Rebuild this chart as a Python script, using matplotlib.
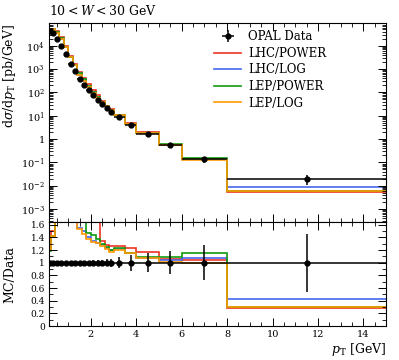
import numpy as np
import matplotlib
matplotlib.use("Agg")
import matplotlib.pyplot as plt
from matplotlib.ticker import MultipleLocator, FuncFormatter, FixedLocator, NullFormatter

plt.rcParams['font.family'] = ['DejaVu Serif']
plt.rcParams['mathtext.fontset'] = 'dejavuserif'

edges = [0.15, 0.25, 0.4, 0.6, 0.8, 1.0, 1.2, 1.4, 1.6, 1.8, 2.0, 2.2, 2.4, 2.6, 2.8,
         3.0, 3.5, 4.0, 5.0, 6.0, 8.0, 15.0]
data_vals = [4.2e4, 3.6e4, 1.9e4, 1.0e4, 4.2e3, 1.7e3, 820, 370, 215, 125, 74, 46, 31,
             21, 14.8, 8.5, 4.0, 1.7, 0.55, 0.135, 0.02]
data_relerr = [0.02, 0.02, 0.02, 0.02, 0.02, 0.025, 0.025, 0.03, 0.03, 0.035, 0.04, 0.045,
               0.05, 0.055, 0.065, 0.09, 0.125, 0.15, 0.18, 0.28, 0.46]

ratio_lhc_power = [1.2, 1.5, 2.2, 2.3, 2.3, 2.2, 2.1, 2.0, 1.9, 1.8, 1.75, 1.7, 1.35, 1.28,
                   1.26, 1.26, 1.23, 1.17, 1.06, 1.05, 0.28]
ratio_lhc_log = [1.2, 1.43, 1.9, 2.0, 2.0, 1.9, 1.75, 1.55, 1.5, 1.41, 1.35, 1.32, 1.28, 1.24,
                 1.2, 1.22, 1.15, 1.08, 1.05, 1.07, 0.43]
ratio_lep_power = [1.18, 1.42, 2.0, 2.1, 2.1, 2.0, 1.9, 1.75, 1.68, 1.47, 1.44, 1.38, 1.29,
                   1.25, 1.2, 1.24, 1.16, 1.09, 1.09, 1.15, 0.30]
ratio_lep_log = [1.2, 1.43, 1.9, 2.0, 2.0, 1.9, 1.75, 1.53, 1.45, 1.38, 1.33, 1.31, 1.27,
                 1.22, 1.17, 1.21, 1.15, 1.07, 1.02, 0.99, 0.30]

series = [
    ("LHC/POWER", ratio_lhc_power, "#EE3322"),
    ("LHC/LOG", ratio_lhc_log, "#4466EE"),
    ("LEP/POWER", ratio_lep_power, "#119911"),
    ("LEP/LOG", ratio_lep_log, "#FF9900"),
]

edges = np.array(edges)
data = np.array(data_vals)
relerr = np.array(data_relerr)
centers = 0.5 * (edges[1:] + edges[:-1])
xerr = 0.5 * (edges[1:] - edges[:-1])

fig = plt.figure(figsize=(3.99, 3.60), dpi=100)
ax = fig.add_axes([0.1228, 0.383, 0.8446, 0.552])
rx = fig.add_axes([0.1228, 0.0944, 0.8446, 0.2886])

for lab, r, c in series:
    mc = np.array(r) * data
    ax.stairs(mc, edges, color=c, lw=1.2, label=lab, baseline=None)
    rx.stairs(np.array(r), edges, color=c, lw=1.2, baseline=None)

ax.errorbar(centers, data, yerr=relerr * data, xerr=xerr, fmt='o', color='black',
            ms=3.5, lw=1.1, capsize=0, label="OPAL Data", zorder=5)
rx.errorbar(centers, np.ones_like(centers), yerr=relerr, xerr=xerr, fmt='o', color='black',
            ms=3.5, lw=1.1, capsize=0, zorder=5)

ymin, ymax = 2.79e-4, 9.0e4
ax.set_yscale('log')
ax.set_ylim(ymin, ymax)
ax.set_xlim(0.15, 15)
rx.set_xlim(0.15, 15)
rx.set_ylim(0, 1.643)

def logfmt(v, pos):
    e = int(round(np.log10(v)))
    if e == 0:
        return "1"
    return r"$10^{%d}$" % e

majors = [10.0 ** e for e in range(-3, 5)]
minors = [m * 10.0 ** e for e in range(-4, 5) for m in range(2, 10)
          if ymin <= m * 10.0 ** e <= ymax]
ax.yaxis.set_major_locator(FixedLocator(majors))
ax.yaxis.set_major_formatter(FuncFormatter(logfmt))
ax.yaxis.set_minor_locator(FixedLocator(minors))
ax.yaxis.set_minor_formatter(NullFormatter())

for a in (ax, rx):
    a.xaxis.set_major_locator(FixedLocator([2, 4, 6, 8, 10, 12, 14]))
    a.xaxis.set_minor_locator(FixedLocator([v * 0.5 for v in range(1, 30) if v % 4]))
    a.tick_params(which='both', direction='in', top=True, right=True, labelsize=7, pad=3)
    a.tick_params(which='major', length=6, width=0.7)
    a.tick_params(which='minor', length=3, width=0.6)
    for s in a.spines.values():
        s.set_linewidth(0.8)
ax.tick_params(axis='x', labelbottom=False)

rx.yaxis.set_major_locator(FixedLocator([0, 0.2, 0.4, 0.6, 0.8, 1.0, 1.2, 1.4, 1.6]))
rx.yaxis.set_minor_locator(FixedLocator([v * 0.1 for v in range(1, 17) if v % 2]))
rx.yaxis.set_major_formatter(FuncFormatter(lambda v, p: "%g" % round(v, 1)))
rx.tick_params(axis='y', labelsize=6.5)

ax.set_ylabel(r"$\mathrm{d}\sigma/\mathrm{d}p_\mathrm{T}$ [pb/GeV]", fontsize=9, loc='top')
rx.set_ylabel("MC/Data", fontsize=9)
rx.set_xlabel(r"$p_\mathrm{T}$ [GeV]", fontsize=9, loc='right', labelpad=1)
ax.yaxis.set_label_coords(-0.092, 1.0)
rx.yaxis.set_label_coords(-0.097, 0.5)
ax.set_title(r"$10 < W < 30$ GeV", loc='left', fontsize=9, pad=6)

handles, labels = ax.get_legend_handles_labels()
order = [labels.index("OPAL Data")] + [labels.index(s[0]) for s in series]
ax.legend([handles[i] for i in order], [labels[i] for i in order], loc='upper left',
          bbox_to_anchor=(0.49, 0.965), frameon=False, fontsize=8.5, handlelength=2.3,
          handletextpad=0.6, labelspacing=0.3, borderaxespad=0, borderpad=0)

fig.savefig("out.png", dpi=100)
